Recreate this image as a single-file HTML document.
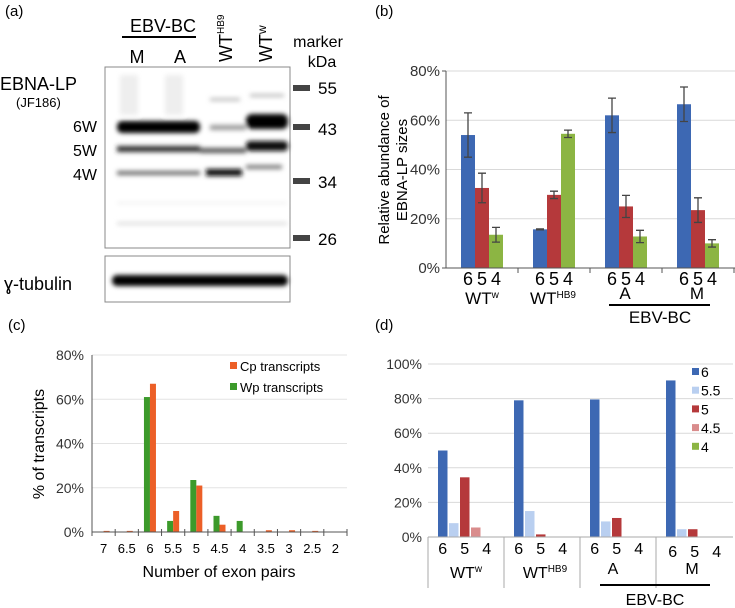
<!DOCTYPE html>
<html><head><meta charset="utf-8"><style>
body{margin:0;background:#fff;}
svg{display:block;font-family:"Liberation Sans",sans-serif;}
</style></head><body>
<svg id="fig" width="735" height="608" viewBox="0 0 735 608">
<defs>
<filter id="blur2" x="-20%" y="-100%" width="140%" height="300%"><feGaussianBlur stdDeviation="2.5"/></filter>
</defs>
<g>
<text x="5" y="16" font-size="15">(a)</text>
<text x="163" y="32" font-size="18" text-anchor="middle">EBV-BC</text>
<line x1="122" y1="37" x2="196" y2="37" stroke="#000" stroke-width="2"/>
<text x="137" y="63" font-size="18" text-anchor="middle">M</text>
<text x="180" y="63" font-size="18" text-anchor="middle">A</text>
<text transform="translate(232,62) rotate(-90)" font-size="18">WT<tspan font-size="10" dy="-8">HB9</tspan></text>
<text transform="translate(272,62) rotate(-90)" font-size="18">WT<tspan font-size="12" dy="-6">w</tspan></text>
<text x="318" y="47" font-size="16" text-anchor="middle">marker</text>
<text x="322" y="67" font-size="16" text-anchor="middle">kDa</text>
<text x="0" y="90" font-size="18">EBNA-LP</text>
<text x="16" y="107" font-size="13">(JF186)</text>
<text x="97" y="132" font-size="16" text-anchor="end">6W</text>
<text x="97" y="156" font-size="16" text-anchor="end">5W</text>
<text x="97" y="180" font-size="16" text-anchor="end">4W</text>
<rect x="105" y="67" width="185" height="181" fill="#fff" stroke="#888"/>
<g filter="url(#blur2)">
<rect x="117" y="121" width="83" height="12" rx="5" fill="#000"/>
<rect x="246" y="114" width="42" height="15" rx="6" fill="#000"/>
<rect x="210" y="125" width="36" height="5" fill="#999"/>
<rect x="117" y="146" width="83" height="6" fill="#333"/>
<rect x="200" y="148" width="46" height="5" fill="#555"/>
<rect x="246" y="141" width="42" height="10" rx="4" fill="#111"/>
<rect x="117" y="171" width="83" height="4" fill="#666"/>
<rect x="206" y="169" width="36" height="7" fill="#111"/>
<rect x="246" y="165" width="36" height="4" fill="#777"/>
<rect x="210" y="98" width="30" height="3" fill="#bbb"/>
<rect x="250" y="94" width="34" height="3" fill="#bbb"/>
<rect x="117" y="222" width="170" height="3" fill="#ddd"/>
<rect x="117" y="202" width="170" height="2" fill="#eee"/>
<rect x="120" y="75" width="18" height="40" fill="#eee"/>
<rect x="165" y="75" width="18" height="40" fill="#eee"/>
</g>
<rect x="105" y="256" width="185" height="46" fill="#fff" stroke="#888"/>
<rect x="112" y="275" width="176" height="11" rx="5" fill="#000" filter="url(#blur2)"/>
<text x="4" y="290" font-size="18">ɣ-tubulin</text>
<g font-size="17">
<rect x="293" y="85" width="17" height="6" fill="#444"/><text x="318" y="94">55</text>
<rect x="293" y="124" width="17" height="6" fill="#444"/><text x="318" y="135">43</text>
<rect x="293" y="178" width="17" height="6" fill="#444"/><text x="318" y="188">34</text>
<rect x="293" y="235" width="17" height="6" fill="#444"/><text x="318" y="245">26</text>
</g>
</g>
<text x="375" y="16" font-size="15">(b)</text>
<text x="8" y="330" font-size="15">(c)</text>
<text x="375" y="330" font-size="15">(d)</text>
<g id="pb"></g><g id="pc"></g><g id="pd"></g>
</svg>
<script>
// Panel b data
const bGroups=['WTw','WTHB9','A','M'];
const bSeries=['6','5','4'];
const bVals=[[54,32.5,13.5],[15.7,29.7,54.5],[62,25,12.8],[66.5,23.5,10]];
const bErr=[[9,6,3],[0.2,1.5,1.5],[7,4.5,2.5],[7,5,1.5]];
const bTicks=[0,20,40,60,80];
// Panel c data
const cCats=['7','6.5','6','5.5','5','4.5','4','3.5','3','2.5','2'];
const cCp=[0.5,0.5,67,9.5,21,3.3,0,0.8,0.8,0.5,0];
const cWp=[0,0,61,5,23.5,7.3,5,0,0,0,0];
const cTicks=[0,20,40,60,80];
// Panel d data
const dGroups=['WTw','WTHB9','A','M'];
const dSeries=['6','5.5','5','4.5','4'];
const dVals=[[50,8,34.5,5.5,0],[79,15,1.5,0,0],[79.5,9,11,0,0],[90.5,4.5,4.5,0,0]];
const dTicks=[0,20,40,60,80,100];

const NS='http://www.w3.org/2000/svg';
function mk(parent,tag,attrs,text){const e=document.createElementNS(NS,tag);for(const k in attrs)e.setAttribute(k,attrs[k]);if(text!==undefined)e.textContent=text;parent.appendChild(e);return e;}

(function(){
const g=document.getElementById('pb');

const y0=268,y1=71,x0=446,gw=72,bw=14;
const yS=v=>y0-(v/80)*(y0-y1);
const cols=['#3d68b3','#b5393b','#8cb543'];
bTicks.forEach(t=>{
 if(t>0){const l=mk(g,'line',{x1:x0,x2:735,y1:yS(t),y2:yS(t),stroke:'#d9d9d9'});
 
 }
 const tx=mk(g,'text',{x:x0-6,y:yS(t)+5,'font-size':15,'text-anchor':'end',fill:'#333'},t+'%');
 
 
});
bVals.forEach((vals,gi)=>{
 vals.forEach((v,si)=>{
  const x=x0+gi*gw+15+si*bw;
  const r=mk(g,'rect',{x:x,y:yS(v),width:bw,height:y0-yS(v),fill:cols[si]});
  
  
  const cx=x+bw/2,e=bErr[gi][si];
  const eb=mk(g,'path',{d:`M${cx},${yS(v+e)}V${yS(v-e)}M${cx-4},${yS(v+e)}h8M${cx-4},${yS(v-e)}h8`,stroke:'#444','stroke-width':1.3,fill:'none'});
  
  
  const lb=mk(g,'text',{x:cx,y:285,'font-size':18,'text-anchor':'middle'},bSeries[si]);
  
  
 });
});
const ax=mk(g,'path',{d:`M${x0},${y1}V${y0}H735M${x0-4},${y1}h4M${x0-4},${y0}h4`+[1,2,3,4].map(i=>`M${x0+i*gw},${y0}v5`).join(''),stroke:'#555',fill:'none'});


const gl=[['WT','w',482],['WT','HB9',553],['A','',625],['M','',697]];
gl.forEach((a,i)=>{
 const t=mk(g,'text',{x:a[2],y:i<2?304:299,'font-size':17,'text-anchor':'middle'},a[0]);
 if(a[1]){mk(t,'tspan',{'font-size':10,dy:-6},a[1]);}
 
 
});
const ln=mk(g,'line',{x1:609,x2:710,y1:305,y2:305,stroke:'#000','stroke-width':2});


const eb=mk(g,'text',{x:660,y:323,'font-size':17,'text-anchor':'middle'},'EBV-BC');


const yt=mk(g,'text',{transform:'translate(389,170) rotate(-90)','font-size':15,'text-anchor':'middle'},'');


mk(yt,'tspan',{x:0,y:0},'Relative abundance of');
mk(yt,'tspan',{x:0,y:18},'EBNA-LP sizes');
})();

(function(){
const g=document.getElementById('pc');

const y0=532,y1=355,x0=92,x1=347,cw=(x1-x0)/cCats.length,bw=6;
const yS=v=>y0-(v/80)*(y0-y1);
cTicks.forEach(t=>{
 if(t>0){const l=mk(g,'line',{x1:x0,x2:x1,y1:yS(t),y2:yS(t),stroke:'#e3e3e3'});
 
 }
 const tx=mk(g,'text',{x:x0-8,y:yS(t)+5,'font-size':14,'text-anchor':'end',fill:'#333'},t+'%');
 
 
});
cCats.forEach((c,i)=>{
 const cx=x0+(i+0.5)*cw;
 const w=mk(g,'rect',{x:cx-bw,y:yS(cWp[i]),width:bw,height:y0-yS(cWp[i]),fill:'#3c9a2b'});
 
 
 const o=mk(g,'rect',{x:cx,y:yS(cCp[i]),width:bw,height:y0-yS(cCp[i]),fill:'#ec5f27'});
 
 
 const lb=mk(g,'text',{x:cx,y:553,'font-size':13,'text-anchor':'middle'},c);
 
 
});
let d=`M${x0},${y1}V${y0}H${x1}`;
for(let i=0;i<=cCats.length;i++)d+=`M${x0+i*cw},${y0-3}v7`;
const ax=mk(g,'path',{d:d,stroke:'#555',fill:'none'});


const xt=mk(g,'text',{x:219,y:577,'font-size':16,'text-anchor':'middle'},'Number of exon pairs');


const yt=mk(g,'text',{transform:'translate(44,444) rotate(-90)','font-size':16,'text-anchor':'middle'},'% of transcripts');


[['Cp transcripts','#ec5f27',367],['Wp transcripts','#3c9a2b',388]].forEach(a=>{
 const r=mk(g,'rect',{x:230,y:a[2]-5,width:7,height:7,fill:a[1]});
 
 
 const t=mk(g,'text',{x:240,y:a[2]+4,'font-size':13},a[0]);
 
 
});
})();

(function(){
const g=document.getElementById('pd');

const y0=537,y1=364,x0=428,gw=76,bw=9.5,sw=11;
const yS=v=>y0-(v/100)*(y0-y1);
const cols=['#3d68b3','#b9cff0','#b5393b','#d98c8c','#8cb543'];
dTicks.forEach(t=>{
 if(t>0){const l=mk(g,'line',{x1:x0,x2:733,y1:yS(t),y2:yS(t),stroke:'#d9d9d9'});
 
 }
 const tx=mk(g,'text',{x:x0-6,y:yS(t)+5,'font-size':14,'text-anchor':'end',fill:'#333'},t+'%');
 
 
});
dVals.forEach((vals,gi)=>{
 vals.forEach((v,si)=>{
  const x=x0+gi*gw+10+si*sw;
  const r=mk(g,'rect',{x:x,y:yS(v),width:bw,height:y0-yS(v),fill:cols[si]});
  
  
 });
 [['6',0],['5',2],['4',4]].forEach(a=>{
  const cx=x0+gi*gw+10+a[1]*sw+bw/2+(gi==3?2:0);
  const t=mk(g,'text',{x:cx,y:gi==3?557:554,'font-size':16,'text-anchor':'middle'},a[0]);
  
  
 });
});
let d=`M${x0},${y0}H733`;
for(let i=0;i<=3;i++)d+=`M${x0+i*gw},${y0}v51`;
const ax=mk(g,'path',{d:d,stroke:'#aaa',fill:'none'});


const gl=[['WT','w',466],['WT','HB9',545],['A','',613],['M','',692]];
gl.forEach((a,i)=>{
 const t=mk(g,'text',{x:a[2],y:i<2?578:574,'font-size':16,'text-anchor':'middle'},a[0]);
 if(a[1])mk(t,'tspan',{'font-size':10,dy:-6},a[1]);
 
 
});
const ln=mk(g,'line',{x1:600,x2:710,y1:585,y2:585,stroke:'#000','stroke-width':2});


const eb=mk(g,'text',{x:655,y:605,'font-size':16,'text-anchor':'middle'},'EBV-BC');


dSeries.forEach((s,i)=>{
 const y=372+i*18.7;
 const r=mk(g,'rect',{x:692,y:y-4,width:7,height:7,fill:cols[i]});
 
 
 const t=mk(g,'text',{x:701,y:y+5,'font-size':14},s);
 
 
});
})();
</script>
</body></html>
